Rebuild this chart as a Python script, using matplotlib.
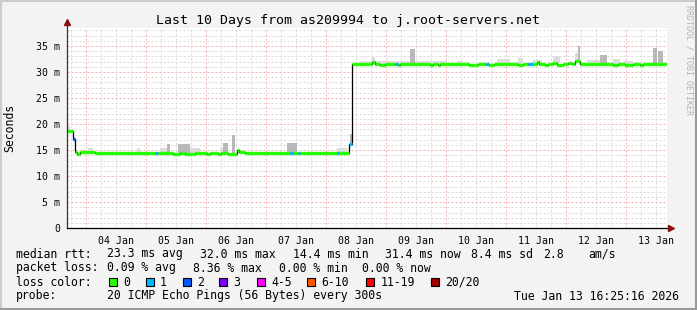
import matplotlib
matplotlib.use('Agg')
import matplotlib.pyplot as plt
import matplotlib.dates as mdates
from matplotlib.lines import Line2D
from matplotlib.patches import Rectangle
import numpy as np
import pandas as pd

W, H = 697, 310

t_start = '2026-01-03 16:25:16'
t_end = '2026-01-13 16:25:16'

# median rtt in ms, one entry per step change, with lost pings class
med_times = [
    '2026-01-03 16:25', '2026-01-03 18:49', '2026-01-03 19:37', '2026-01-03 20:25',
    '2026-01-03 21:37', '2026-01-04 03:37', '2026-01-05 03:37', '2026-01-05 04:49',
    '2026-01-05 10:49', '2026-01-05 13:37', '2026-01-05 15:37', '2026-01-05 19:37',
    '2026-01-06 00:25', '2026-01-06 01:37', '2026-01-06 04:49', '2026-01-06 06:01',
    '2026-01-06 08:49', '2026-01-06 12:25', '2026-01-06 13:13', '2026-01-06 15:37',
    '2026-01-07 09:37', '2026-01-07 10:49', '2026-01-07 12:49', '2026-01-07 13:37',
    '2026-01-08 04:25', '2026-01-08 05:13', '2026-01-08 09:13', '2026-01-08 10:25',
    '2026-01-08 18:25', '2026-01-08 19:37', '2026-01-08 21:37', '2026-01-08 23:37',
    '2026-01-09 03:37', '2026-01-09 04:49', '2026-01-09 05:37', '2026-01-09 17:37',
    '2026-01-09 18:49', '2026-01-09 20:49', '2026-01-09 21:37', '2026-01-10 09:13',
    '2026-01-10 12:49', '2026-01-10 16:01', '2026-01-10 17:13', '2026-01-10 19:13',
    '2026-01-11 04:49', '2026-01-11 06:49', '2026-01-11 08:49', '2026-01-11 10:49',
    '2026-01-11 12:25', '2026-01-11 13:13', '2026-01-11 15:37', '2026-01-11 16:49',
    '2026-01-11 18:49', '2026-01-11 20:25', '2026-01-11 22:49', '2026-01-12 00:49',
    '2026-01-12 02:25', '2026-01-12 03:37', '2026-01-12 05:37', '2026-01-12 18:49',
    '2026-01-12 20:49', '2026-01-12 23:37', '2026-01-13 02:49', '2026-01-13 05:37',
    '2026-01-13 06:49',
]
med_values = [
    18.7, 17.1, 14.55, 14.35, 14.55, 14.4, 14.4, 14.5,
    14.35, 14.5, 14.35, 14.5, 14.35, 14.5, 14.35, 14.5,
    14.35, 15.0, 14.55, 14.4, 14.4, 14.4, 14.4, 14.4,
    14.4, 14.4, 16.2, 31.5, 31.9, 31.5, 31.3, 31.5,
    31.5, 31.3, 31.5, 31.3, 31.5, 31.3, 31.5, 31.3,
    31.5, 31.5, 31.3, 31.5, 31.3, 31.5, 31.5, 31.5,
    31.9, 31.5, 31.3, 31.5, 31.8, 31.3, 31.5, 31.8,
    31.5, 32.1, 31.5, 31.3, 31.5, 31.3, 31.5, 31.3,
    31.5,
]
med_loss = [
    0, 2, 0, 0, 0, 0, 1, 0,
    0, 0, 0, 0, 0, 0, 0, 0,
    0, 0, 0, 0, 1, 0, 1, 0,
    1, 0, 1, 0, 0, 0, 0, 0,
    1, 0, 0, 0, 0, 0, 0, 0,
    0, 1, 0, 0, 0, 0, 1, 0,
    0, 0, 0, 0, 0, 0, 0, 0,
    0, 0, 0, 0, 0, 0, 0, 0,
    0,
]

# smoke: spread of the single pings above the median (ms)
smoke_start = [
    '2026-01-03 16:25', '2026-01-04 00:49', '2026-01-04 20:25', '2026-01-05 05:37',
    '2026-01-05 08:25', '2026-01-05 12:49', '2026-01-05 17:37', '2026-01-06 05:37',
    '2026-01-06 06:49', '2026-01-06 10:25', '2026-01-07 08:25', '2026-01-08 04:25',
    '2026-01-08 09:37', '2026-01-08 13:37', '2026-01-08 18:25', '2026-01-08 19:37',
    '2026-01-09 09:37', '2026-01-09 11:37', '2026-01-10 04:25', '2026-01-10 20:25',
    '2026-01-11 04:49', '2026-01-11 10:49', '2026-01-11 18:49', '2026-01-12 03:37',
    '2026-01-12 04:49', '2026-01-12 08:25', '2026-01-12 13:37', '2026-01-12 18:49',
    '2026-01-12 22:49', '2026-01-13 10:49', '2026-01-13 12:49',
]
smoke_end = [
    '2026-01-03 17:37', '2026-01-04 02:49', '2026-01-04 21:37', '2026-01-05 08:25',
    '2026-01-05 09:37', '2026-01-05 17:37', '2026-01-05 21:37', '2026-01-06 06:49',
    '2026-01-06 08:49', '2026-01-06 11:37', '2026-01-07 12:25', '2026-01-08 08:25',
    '2026-01-08 10:25', '2026-01-08 18:25', '2026-01-08 19:37', '2026-01-09 09:37',
    '2026-01-09 11:37', '2026-01-10 00:25', '2026-01-10 06:49', '2026-01-11 01:37',
    '2026-01-11 06:49', '2026-01-11 14:25', '2026-01-11 21:37', '2026-01-12 04:49',
    '2026-01-12 05:37', '2026-01-12 16:25', '2026-01-12 16:25', '2026-01-12 21:37',
    '2026-01-13 02:49', '2026-01-13 12:25', '2026-01-13 14:49',
]
smoke_top = [
    19.6, 15.4, 15.4, 15.4, 16.1, 16.1, 15.4, 15.4,
    16.4, 17.9, 16.4, 15.4, 18.1, 32.2, 32.8, 32.1,
    34.5, 32.1, 32.1, 32.5, 32.6, 32.3, 33.1, 33.6,
    34.9, 32.3, 33.3, 32.4, 32.1, 34.6, 34.0,
]

loss_labels = ['0', '1', '2', '3', '4-5', '6-10', '11-19', '20/20']
loss_colors = ['#26ff00', '#00b8ff', '#0059ff', '#7e00ff', '#ff00ff', '#ff5500', '#ff0000', '#a10000']

title = 'Last 10 Days from as209994 to j.root-servers.net'
rtt_line = ['median rtt:', '23.3 ms avg', '32.0 ms max', '14.4 ms min', '31.4 ms now', '8.4 ms sd', '2.8', 'am/s']
loss_line = ['packet loss:', '0.09 % avg', '8.36 % max', '0.00 % min', '0.00 % now']
probe_text = '20 ICMP Echo Pings (56 Bytes) every 300s'
stamp = 'Tue Jan 13 16:25:16 2026'

MONO = 'DejaVu Sans Mono'


def tnum(s):
    return mdates.date2num(pd.Timestamp(s))


fig = plt.figure(figsize=(W / 100, H / 100), dpi=100, facecolor='#f3f3f3')
# plot canvas: x 67..667 px, y 27.7..228.3 px
ax = fig.add_axes([67 / W, 1 - 228.3 / H, 600 / W, 200.6 / H])
ax.set_facecolor('white')

x0 = tnum(t_start)
x1 = tnum(t_end)
ax.set_xlim(x0, x1)
ax.set_ylim(0, 38.5)

# grid: red every day / 5 ms, gray every 6 h / 1 ms
dash = (0, (2, 2))
for h in pd.date_range('2026-01-03 18:00', '2026-01-13 12:00', freq='6h'):
    if h.hour == 0:
        ax.axvline(mdates.date2num(h), color='#f5b0b0', lw=0.72, ls=dash, zorder=1)
    else:
        ax.axvline(mdates.date2num(h), color='#d9d9d9', lw=0.72, ls=dash, zorder=0.9)
for v in range(1, 39):
    if v % 5 == 0:
        ax.axhline(v, color='#f5b0b0', lw=0.72, ls=dash, zorder=1)
    else:
        ax.axhline(v, color='#d9d9d9', lw=0.72, ls=dash, zorder=0.9)

# median steps
mx = np.array([tnum(s) for s in med_times] + [x1])
mv = np.array(med_values)

# smoke
for s, e, top in zip(smoke_start, smoke_end, smoke_top):
    xs = tnum(s)
    xe = tnum(e)
    i = max(np.searchsorted(mx, xs, side='right') - 1, 0)
    base = mv[i]
    col = '#b8b8b8' if top - base > 1.5 else '#dcdcdc'
    ax.bar(xs, top - base, width=xe - xs, bottom=base, align='edge',
           color=col, lw=0, zorder=2)

ax.step(mx, list(mv) + [mv[-1]], where='post', color='black', lw=0.9, zorder=3)
for i in range(len(mv)):
    ax.hlines(mv[i], mx[i], mx[i + 1], color=loss_colors[med_loss[i]], lw=2.4, zorder=4)

# ticks
noons = pd.date_range('2026-01-04 12:00', '2026-01-13 12:00', freq='D')
ax.set_xticks(mdates.date2num(noons))
ax.set_xticklabels([d.strftime('%d Jan') for d in noons], family=MONO, fontsize=7.1)
ax.set_yticks(range(0, 40, 5))
ax.set_yticklabels(['0'] + ['%d m' % v for v in range(5, 40, 5)], family=MONO, fontsize=7.1)
ax.tick_params(axis='x', length=0, pad=5.5, colors='black')
ax.tick_params(axis='y', length=0, pad=5, colors='black')
for sp in ax.spines.values():
    sp.set_visible(False)

# axis lines with arrows
ax.plot([0, 0], [0, 1.025], transform=ax.transAxes, color='#333333', lw=0.9, clip_on=False, zorder=5)
ax.plot([0, 1.008], [0, 0], transform=ax.transAxes, color='black', lw=0.9, clip_on=False, zorder=5)
ax.plot([0], [1.028], marker='^', ms=5, color='#8b1010', transform=ax.transAxes, clip_on=False, zorder=6)
ax.plot([1.007], [0], marker='>', ms=5, color='#8b1010', transform=ax.transAxes, clip_on=False, zorder=6)


def put(x, y, s, **kw):
    kw.setdefault('family', MONO)
    kw.setdefault('fontsize', 8.3)
    kw.setdefault('va', 'baseline')
    fig.text(x / W, 1 - y / H, s, **kw)


put(348, 24, title, ha='center', fontsize=9.5)
put(10, 128, 'Seconds', rotation=90, ha='center', va='center')
put(689, 5, 'RRDTOOL / TOBI OETIKER', rotation=270, ha='center', va='top',
    fontsize=6, color='#b4b4b4')

for x, s in zip([16, 107, 200, 293, 385, 471, 543, 588], rtt_line):
    put(x, 257.5, s)
for x, s in zip([16, 107, 193, 279, 362], loss_line):
    put(x, 271.5, s)
put(16, 285.5, 'loss color:')
box_x = [108.5, 145.5, 182.5, 219, 257, 307, 366, 431]
for bx, c, lab in zip(box_x, loss_colors, loss_labels):
    fig.add_artist(Rectangle((bx / W, 1 - 286.3 / H), 8 / W, 8 / H, facecolor=c,
                             edgecolor='black', lw=0.8, transform=fig.transFigure))
    put(bx + 14.5, 285.5, lab)
put(16, 299.5, 'probe:')
put(107, 299.5, probe_text)
put(514, 299.5, stamp)

# frame around the image
fig.add_artist(Line2D([0, 1], [1 - 1 / H, 1 - 1 / H], transform=fig.transFigure, color='#cccccc', lw=1.5))
fig.add_artist(Line2D([1 / W, 1 / W], [0, 1], transform=fig.transFigure, color='#cccccc', lw=1.5))
fig.add_artist(Line2D([0, 1], [1 / H, 1 / H], transform=fig.transFigure, color='#999999', lw=1.5))
fig.add_artist(Line2D([1 - 1 / W, 1 - 1 / W], [0, 1], transform=fig.transFigure, color='#999999', lw=1.5))

fig.savefig('out.png', dpi=100, facecolor=fig.get_facecolor())
